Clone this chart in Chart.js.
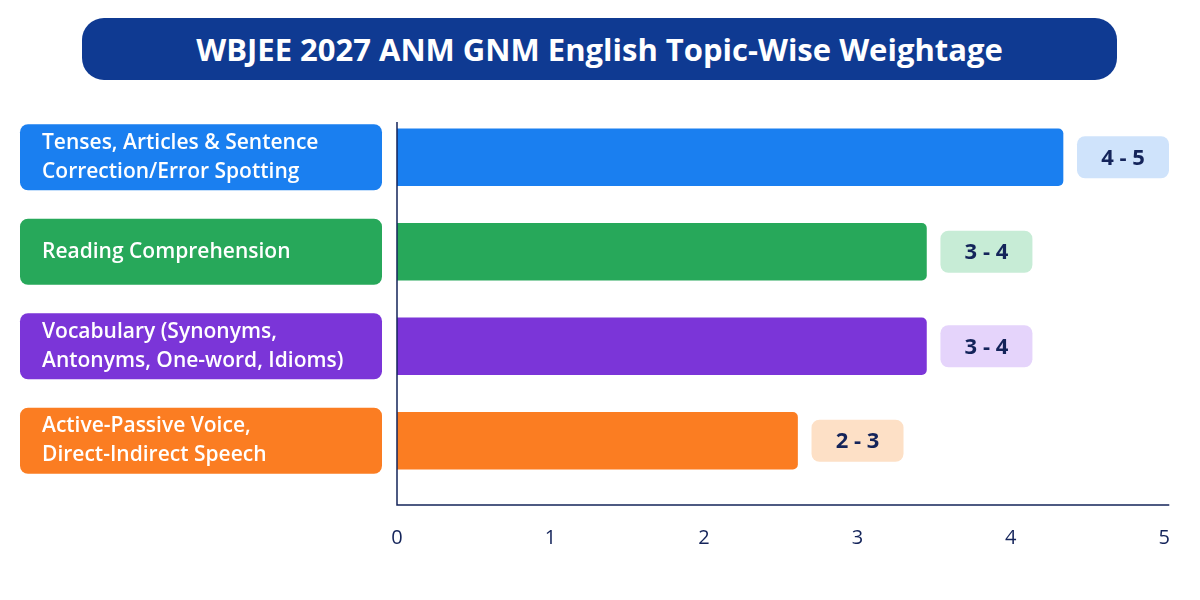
<!DOCTYPE html>
<html>
<head>
<meta charset="utf-8">
<script src="https://cdn.jsdelivr.net/npm/chart.js@4"></script>
<style>
  body { margin: 0; background: #fff; font-family: "Open Sans", sans-serif; }
  #wrap { position: relative; width: 1200px; height: 600px; }
  #title {
    position: absolute; left: 82px; top: 18px; width: 1035px; height: 62px;
    background: #0f3a92; border-radius: 22px; color: #fff;
    font: 700 31px "Open Sans", sans-serif; display: flex;
    align-items: center; justify-content: center;
  }
</style>
</head>
<body>
<div id="wrap">
  <canvas id="c" width="1200" height="600"></canvas>
  <div id="title">WBJEE 2027 ANM GNM English Topic-Wise Weightage</div>
</div>
<script>
const topics = [
  ["Tenses, Articles & Sentence", "Correction/Error Spotting"],
  ["Reading Comprehension"],
  ["Vocabulary (Synonyms,", "Antonyms, One-word, Idioms)"],
  ["Active-Passive Voice,", "Direct-Indirect Speech"]
];
const weights = [4.34, 3.45, 3.45, 2.61];
const ranges = ["4 - 5", "3 - 4", "3 - 4", "2 - 3"];
const barColors = ["#1a7ff0", "#27a85a", "#7b35d8", "#fb7d22"];
const badgeColors = ["#cfe3fb", "#c7ecd6", "#e5d4fb", "#fde0c6"];
const navy = "#14245a";

function roundRect(ctx, x, y, w, h, r) {
  ctx.beginPath();
  ctx.roundRect(x, y, w, h, r);
  ctx.fill();
}

const decorations = {
  id: "decorations",
  afterDatasetsDraw(chart) {
    const ctx = chart.ctx;
    const xs = chart.scales.x, ys = chart.scales.y;
    ctx.save();
    // axis lines
    ctx.strokeStyle = navy;
    ctx.lineWidth = 1.5;
    ctx.beginPath();
    ctx.moveTo(xs.getPixelForValue(0), 122);
    ctx.lineTo(xs.getPixelForValue(0), 505);
    ctx.lineTo(xs.getPixelForValue(5) + 5, 505);
    ctx.stroke();
    topics.forEach((lines, i) => {
      const yc = ys.getPixelForValue(i);
      // label box
      ctx.fillStyle = barColors[i];
      roundRect(ctx, 20, yc - 33, 362, 66, 8);
      ctx.fillStyle = "#fff";
      ctx.font = "600 21px 'Open Sans', sans-serif";
      ctx.textBaseline = "middle";
      ctx.textAlign = "left";
      lines.forEach((t, j) => {
        ctx.fillText(t, 42, yc + (j - (lines.length - 1) / 2) * 29);
      });
      // badge
      const xe = xs.getPixelForValue(weights[i]);
      ctx.fillStyle = badgeColors[i];
      roundRect(ctx, xe + 14, yc - 21, 92, 42, 8);
      ctx.fillStyle = navy;
      ctx.font = "700 22px 'Open Sans', sans-serif";
      ctx.textAlign = "center";
      ctx.fillText(ranges[i], xe + 60, yc + 1);
    });
    ctx.restore();
  }
};

new Chart(document.getElementById("c"), {
  type: "bar",
  data: {
    labels: topics.map(t => t.join(" ")),
    datasets: [{
      data: weights,
      backgroundColor: barColors,
      borderRadius: 5,
      borderSkipped: "start",
      barThickness: 57
    }]
  },
  options: {
    indexAxis: "y",
    responsive: false,
    animation: false,
    layout: { padding: { left: 397, top: 110, right: 30, bottom: 20 } },
    plugins: { legend: { display: false }, tooltip: { enabled: false } },
    scales: {
      x: {
        min: 0, max: 5,
        ticks: { stepSize: 1, color: navy, padding: 30, font: { family: "Open Sans", size: 20 } },
        grid: { display: false },
        border: { display: false }
      },
      y: {
        display: false,
        afterFit(s) { s.width = 0; }
      }
    }
  },
  plugins: [decorations]
});
</script>
</body>
</html>
